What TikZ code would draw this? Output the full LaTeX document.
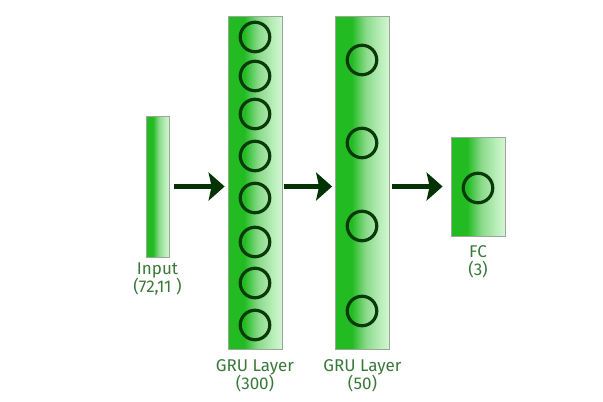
\documentclass[tikz,border=0pt]{standalone}
\usepackage{fontspec}
\setmainfont{Fira Sans}
\usetikzlibrary{arrows.meta}
\definecolor{gA}{HTML}{22BB22}
\definecolor{gB}{HTML}{8ADA8A}
\definecolor{gC}{HTML}{B8EDB8}
\definecolor{gD}{HTML}{D3F6D3}
\definecolor{ring}{HTML}{0A3A0A}
\definecolor{arrowc}{HTML}{033303}
\definecolor{txt}{HTML}{3A783A}
\definecolor{edge}{HTML}{9AA89A}
\pgfdeclarehorizontalshading{barshade}{100bp}{color(0bp)=(gA); color(25bp)=(gA); color(40bp)=(gA); color(53bp)=(gB); color(66bp)=(gC); color(75bp)=(gD); color(100bp)=(gD)}
\begin{document}
\begin{tikzpicture}[x=1pt,y=-1pt,
  bar/.style={draw=edge, line width=0.8pt, shading=barshade, inner sep=0pt, minimum width=#1},
  bar/.default=54pt,
  unit/.style={circle, draw=ring, line width=3.2pt, minimum size=29.5pt, inner sep=0pt},
  conn/.style={draw=arrowc, line width=5pt, -{Stealth[length=16pt,width=28pt,inset=3pt]}},
  lab/.style={text=txt, font=\fontsize{17}{18.5}\selectfont, align=center, anchor=north, inner sep=0pt}
]
\useasboundingbox[fill=white] (0,0) rectangle (603,402);
% bars
\node[bar=23pt, minimum height=141pt] (in) at (157.5,186.5) {};
\node[bar, minimum height=333pt] (g1) at (255,182.5) {};
\node[bar, minimum height=333pt] (g2) at (362.5,182.5) {};
\node[bar, minimum height=99pt] (fc) at (478,186.5) {};
% units
\foreach \y [count=\i] in {37,76,114,156,198,242,283,325}
  \node[unit] (a\i) at (255,\y) {};
\foreach \y [count=\i] in {60,143,226,311}
  \node[unit] (b\i) at (362,\y) {};
\node[unit] (c1) at (478,188) {};
% connectors
\draw[conn, shorten <=5pt, shorten >=3pt] (in.east) -- (in.east -| g1.west);
\draw[conn, shorten <=1.5pt, shorten >=3pt] (g1.east |- in.east) -- (g1.east |- in.east -| g2.west);
\draw[conn, shorten <=2.5pt, shorten >=8pt] (g2.east |- in.east) -- (in.east -| fc.west);
% labels
\node[lab] (lin) at (157.5,262.5) {Input\\(72,11 )};
\node[lab] (lg1) at (255,359) {GRU Layer\\(300)};
\node[lab] (lg2) at (362.5,359) {GRU Layer\\(50)};
\node[lab] (lfc) at (478,245) {FC\\(3)};
\end{tikzpicture}
\end{document}
